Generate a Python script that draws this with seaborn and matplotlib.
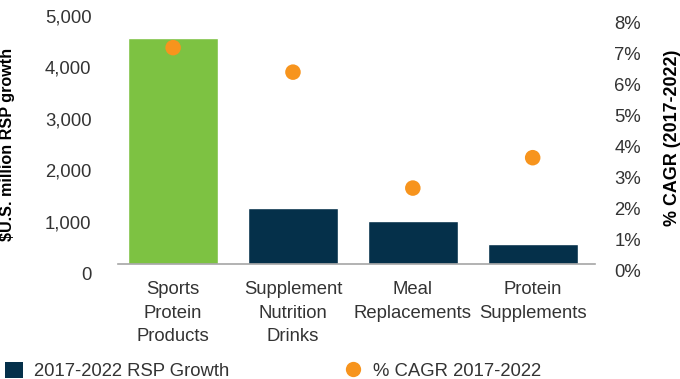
import numpy as np
import matplotlib
matplotlib.use("Agg")
import matplotlib.pyplot as plt
import matplotlib.transforms as mtransforms
from matplotlib.lines import Line2D
from matplotlib.patches import Patch
import seaborn as sns

# data
categories = ["Sports\nProtein\nProducts", "Supplement\nNutrition\nDrinks",
              "Meal\nReplacements", "Protein\nSupplements"]
rsp_growth = [4400, 1085, 840, 390]          # $U.S. million
cagr = [6.98, 6.19, 2.45, 3.43]              # %
left_ticks = [0, 1000, 2000, 3000, 4000, 5000]
right_ticks = [0, 1, 2, 3, 4, 5, 6, 7, 8]

green = "#7DC242"
navy = "#05304A"
orange = "#F7941D"
txt = "#333333"

sns.set_style("white")
plt.rcParams["font.family"] = ["Liberation Sans", "DejaVu Sans"]

fig = plt.figure(figsize=(6.8, 3.79), dpi=100)
ax = fig.add_axes([0.1735, 0.3034, 0.7015, 0.678])

sns.barplot(x=categories, y=rsp_growth, hue=categories,
            palette=[green, navy, navy, navy], legend=False,
            width=0.75, saturation=1, ax=ax)
ax.set_xlim(-0.46, 3.52)
ax.set_ylim(0, 5000)
ax.set_yticks(left_ticks)
ax.set_yticklabels([f"{t:,}" for t in left_ticks])

ax2 = ax.twinx()
sns.scatterplot(x=np.arange(len(cagr)), y=cagr, color=orange, s=125,
                edgecolor="none", ax=ax2)
ax2.set_ylim(0, 8.29)
ax2.set_yticks(right_ticks)
ax2.set_yticklabels([f"{t}%" for t in right_ticks])
ax.set_xlim(-0.46, 3.52)

for a in (ax, ax2):
    for s in a.spines.values():
        s.set_visible(False)
    a.grid(False)
ax.spines["bottom"].set_visible(True)
ax.spines["bottom"].set_color("#A6A6A6")
ax.spines["bottom"].set_linewidth(1.2)

ax.tick_params(axis="y", length=0, pad=19, labelsize=13.3, labelcolor=txt)
ax.tick_params(axis="x", length=0, pad=12.5, labelsize=13.3, labelcolor=txt)
ax2.tick_params(axis="y", length=0, pad=14, labelsize=13.3, labelcolor=txt)
for lab in ax.get_xticklabels():
    lab.set_linespacing(1.48)

# tick labels in the reference sit a few pixels under their ticks
off_l = mtransforms.ScaledTranslation(0, -9 / 100, fig.dpi_scale_trans)
off_r = mtransforms.ScaledTranslation(0, -6 / 100, fig.dpi_scale_trans)
for lab in ax.get_yticklabels():
    lab.set_transform(lab.get_transform() + off_l)
for lab in ax2.get_yticklabels():
    lab.set_transform(lab.get_transform() + off_r)

ax.set_ylabel("$U.S. million RSP growth", fontsize=11.6, fontweight="bold", color="black")
ax.yaxis.set_label_coords(-0.216, 0.465)
ax2.set_ylabel("% CAGR (2017-2022)", fontsize=12.9, fontweight="bold",
               color="black", rotation=90)
ax2.yaxis.set_label_coords(1.145, 0.49)
ax.set_xlabel("")

handles = [Patch(facecolor=navy, edgecolor="none", label="2017-2022 RSP Growth"),
           Line2D([], [], marker="o", linestyle="none", markersize=11,
                  markerfacecolor=orange, markeredgecolor="none",
                  label="% CAGR 2017-2022")]
fig.legend(handles=handles, loc="lower left", bbox_to_anchor=(-0.017, -0.047),
           ncol=2, frameon=False, fontsize=13.3, labelcolor=txt,
           handlelength=0.95, handleheight=0.95, handletextpad=0.6,
           columnspacing=6.25)

fig.savefig("out.png", dpi=100)
